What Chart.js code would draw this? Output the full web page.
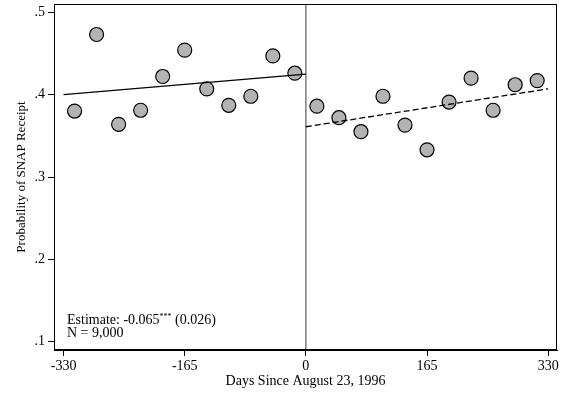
<!DOCTYPE html>
<html>
<head>
<meta charset="utf-8">
<script src="https://cdn.jsdelivr.net/npm/chart.js@4/dist/chart.umd.min.js"></script>
<style>
  html, body { margin: 0; padding: 0; background: #fff; }
  #wrap { width: 573px; height: 394px; }
</style>
</head>
<body>
<div id="wrap"><canvas id="rdChart"></canvas></div>
<script>
// binned means, 30-day bins either side of the cutoff
var binDays = [-315, -285, -255, -225, -195, -165, -135, -105, -75, -45, -15,
               15, 45, 75, 105, 135, 165, 195, 225, 255, 285, 315];
var snapShare = [0.380, 0.473, 0.364, 0.381, 0.422, 0.454, 0.407, 0.387, 0.398, 0.447, 0.426,
                 0.386, 0.372, 0.355, 0.398, 0.363, 0.333, 0.391, 0.420, 0.381, 0.412, 0.417];

// fitted lines (endpoints)
var fitLeftX = [-330, 0];
var fitLeftY = [0.400, 0.425];
var fitRightX = [0, 330];
var fitRightY = [0.361, 0.407];

var xTicks = [-330, -165, 0, 165, 330];
var yTicks = [0.1, 0.2, 0.3, 0.4, 0.5];
var cutoff = 0;

var noteLines = ["Estimate: -0.065", "N = 9,000"];
var noteStars = "***";
var noteSe = " (0.026)";

function pts(xs, ys) {
  return xs.map(function(x, i) { return { x: x, y: ys[i] }; });
}

var serif = "'Liberation Serif', 'DejaVu Serif', serif";

var framePlugin = {
  id: 'frame',
  beforeDatasetsDraw: function(chart) {
    var ctx = chart.ctx, a = chart.chartArea;
    var x0 = chart.scales.x.getPixelForValue(cutoff);
    ctx.save();
    ctx.strokeStyle = '#7a7a7a';
    ctx.lineWidth = 1.5;
    ctx.beginPath();
    ctx.moveTo(x0, a.top);
    ctx.lineTo(x0, a.bottom);
    ctx.stroke();
    ctx.restore();
  },
  afterDraw: function(chart) {
    var ctx = chart.ctx, a = chart.chartArea;
    ctx.save();
    ctx.strokeStyle = '#000';
    ctx.lineWidth = 1;
    ctx.strokeRect(a.left + 0.5, a.top + 0.5, a.right - a.left - 1, a.bottom - a.top - 1);

    // annotation
    ctx.fillStyle = '#000';
    ctx.textBaseline = 'alphabetic';
    ctx.font = "14px " + serif;
    var tx = a.left + 13;
    ctx.fillText(noteLines[0], tx, a.bottom - 26);
    var w = ctx.measureText(noteLines[0]).width;
    ctx.font = "8px " + serif;
    ctx.fillText(noteStars, tx + w, a.bottom - 31);
    var w2 = ctx.measureText(noteStars).width;
    ctx.font = "14px " + serif;
    ctx.fillText(noteSe, tx + w + w2, a.bottom - 26);
    ctx.fillText(noteLines[1], tx, a.bottom - 13);
    ctx.restore();
  }
};

new Chart(document.getElementById('rdChart'), {
  type: 'scatter',
  data: {
    datasets: [
      {
        label: 'bins',
        data: pts(binDays, snapShare),
        backgroundColor: '#b3b3b3',
        borderColor: '#000',
        borderWidth: 1.2,
        pointRadius: 7,
        pointHoverRadius: 7,
        order: 2
      },
      {
        type: 'line',
        label: 'fit left',
        data: pts(fitLeftX, fitLeftY),
        borderColor: '#000',
        borderWidth: 1.3,
        pointRadius: 0,
        fill: false,
        order: 1
      },
      {
        type: 'line',
        label: 'fit right',
        data: pts(fitRightX, fitRightY),
        borderColor: '#000',
        borderWidth: 1.3,
        borderDash: [6, 3],
        pointRadius: 0,
        fill: false,
        order: 1
      }
    ]
  },
  options: {
    responsive: true,
    maintainAspectRatio: false,
    animation: false,
    layout: { autoPadding: false, padding: { top: 4, right: 16, left: 0, bottom: 0 } },
    plugins: {
      legend: { display: false },
      tooltip: { enabled: false }
    },
    scales: {
      x: {
        type: 'linear',
        min: -343,
        max: 342,
        afterBuildTicks: function(s) { s.ticks = xTicks.map(function(v) { return { value: v }; }); },
        afterFit: function(s) { s.height = 44; s.paddingLeft = 0; s.paddingRight = 0; },
        grid: { drawOnChartArea: false, drawTicks: true, tickLength: 6, color: '#000' },
        border: { display: true, color: '#000', width: 1 },
        ticks: {
          color: '#000',
          padding: 2,
          maxRotation: 0,
          font: { family: serif, size: 14 },
          callback: function(v) { return String(v); }
        },
        title: {
          display: true,
          text: 'Days Since August 23, 1996',
          color: '#000',
          font: { family: serif, size: 14 },
          padding: { top: 0, bottom: 4 }
        }
      },
      y: {
        type: 'linear',
        min: 0.09,
        max: 0.51,
        afterBuildTicks: function(s) { s.ticks = yTicks.map(function(v) { return { value: v }; }); },
        afterFit: function(s) { s.width = 54; s.paddingTop = 0; s.paddingBottom = 0; },
        grid: { drawOnChartArea: false, drawTicks: true, tickLength: 6, color: '#000' },
        border: { display: true, color: '#000', width: 1 },
        ticks: {
          color: '#000',
          padding: 3,
          font: { family: serif, size: 14 },
          callback: function(v) { return String(Math.round(v * 10) / 10).replace(/^0/, ''); }
        },
        title: {
          display: true,
          text: 'Probability of SNAP Receipt',
          color: '#000',
          font: { family: serif, size: 13 },
          padding: { top: 14, bottom: 0 }
        }
      }
    }
  },
  plugins: [framePlugin]
});
</script>
</body>
</html>
